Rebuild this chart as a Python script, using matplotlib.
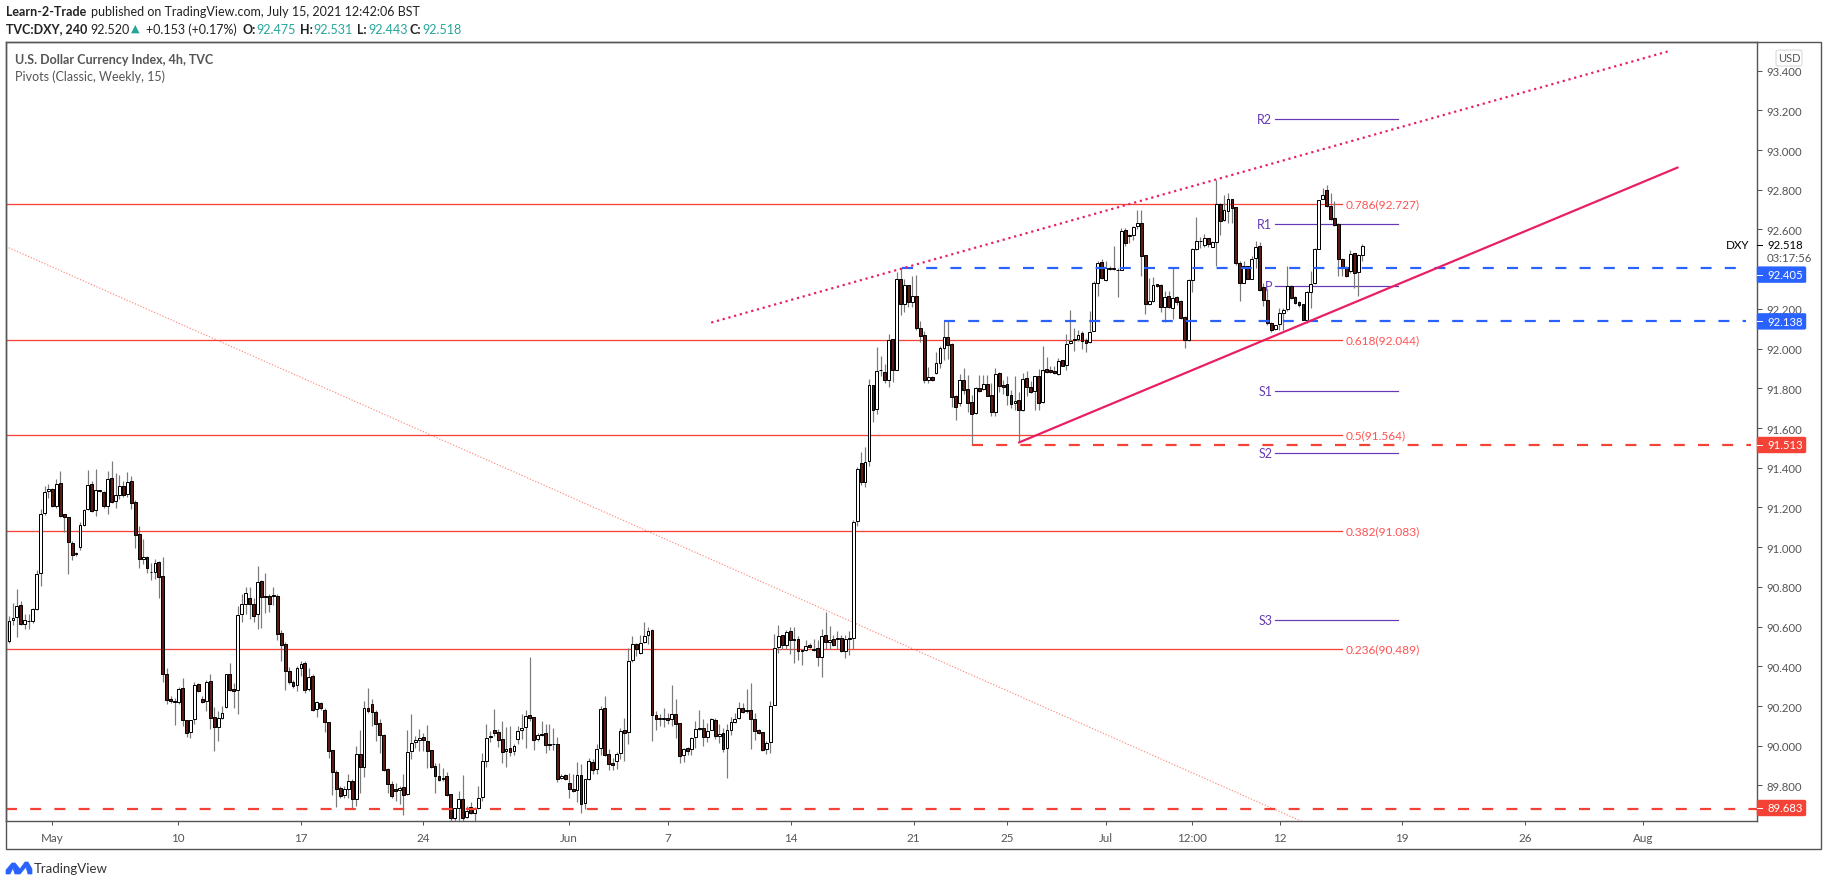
import matplotlib
matplotlib.use("Agg")
import matplotlib.pyplot as plt
from matplotlib.lines import Line2D
from matplotlib.patches import FancyBboxPatch, Polygon, Rectangle

W, H = 1828, 887

directions = ("UUUDUUUUUUUDUDDDDDUU" "UDUDDUDUUDUDDDUDUUDD" "DDDUDDUUDDUDDUUUDDUU" "UDDUDDDDDDDDDUUDUDUD"
              "DDDDDUUDUDUDDDDDDDDU" "DUUUUDDDDDUDDUUDUDUU" "UUUDDDUDUUUUDDUDDDDD" "UDDDUDUUDUUDDDUUDUUD"
              "UUUDDUUDUDDUDUUUDUUD" "UDUUUUDDDDDDUUUUDUDD" "DUUDUDUDUDUDUDUUDUUD" "UUDUDUDUDUDDDUDUUUDD"
              "DUDDDUDUDDUDDDDUDUDD" "UDUDDDUDUUUUDDUUUDUU" "UDUDUUUDDUUDDUDUDDDU" "UUUUDUUDUUDDDUDUUDDD"
              "DUUUUDDDDUUUUUDDDDDDUDUU")

body_top = [
 90.627,90.644,90.703,90.710,90.632,90.629,90.688,90.864,91.166,91.277,91.292,91.292,91.319,91.324,91.166,91.153,91.022,90.971,91.112,91.188,
 91.314,91.319,91.287,91.289,91.279,91.344,91.349,91.263,91.309,91.309,91.327,91.334,91.228,91.067,90.951,90.951,90.876,90.919,90.926,90.856,
 90.362,90.237,90.226,90.287,90.292,90.129,90.129,90.305,90.310,90.237,90.322,90.325,90.146,90.141,90.164,90.361,90.361,90.287,90.658,90.713,
 90.768,90.743,90.715,90.824,90.829,90.753,90.753,90.757,90.755,90.569,90.513,90.377,90.322,90.391,90.411,90.416,90.347,90.352,90.220,90.216,
 90.179,90.119,89.978,89.869,89.788,89.783,89.824,89.824,89.960,89.960,90.191,90.191,90.211,90.171,90.116,90.055,89.884,89.809,89.780,89.788,
 89.793,89.970,90.015,90.028,90.040,90.045,90.025,89.980,89.899,89.849,89.839,89.849,89.758,89.684,89.733,89.733,89.671,89.691,89.683,89.738,
 89.924,90.040,90.047,90.081,90.070,90.035,89.985,89.990,90.000,90.075,90.091,90.151,90.156,90.146,90.054,90.060,90.065,90.010,90.010,90.010,
 89.849,89.852,89.814,89.783,89.854,89.854,89.834,89.923,89.919,89.985,90.186,90.191,89.960,89.914,89.960,90.075,90.081,90.426,90.512,90.512,
 90.517,90.554,90.579,90.584,90.156,90.138,90.139,90.141,90.161,90.161,90.116,89.985,89.990,90.040,90.086,90.091,90.091,90.075,90.136,90.131,
 90.060,90.065,90.081,90.121,90.136,90.190,90.191,90.181,90.181,90.136,90.081,90.070,90.013,90.201,90.492,90.554,90.559,90.574,90.579,90.539,
 90.539,90.483,90.503,90.508,90.487,90.493,90.554,90.559,90.534,90.539,90.544,90.544,90.539,90.544,91.126,91.396,91.424,91.429,91.817,91.817,
 91.888,91.893,91.883,92.044,92.049,92.351,92.351,92.321,92.321,92.264,92.265,92.104,92.069,91.858,91.858,91.928,92.004,92.059,92.059,92.024,
 91.762,91.843,91.843,91.797,91.732,91.802,91.802,91.822,91.822,91.767,91.873,91.878,91.819,91.822,91.767,91.737,91.742,91.848,91.853,91.807,
 91.863,91.863,91.893,91.898,91.890,91.888,91.938,91.943,92.024,92.039,92.049,92.067,92.079,92.044,92.084,92.331,92.432,92.437,92.405,92.407,
 92.405,92.398,92.593,92.598,92.573,92.613,92.633,92.635,92.469,92.240,92.321,92.323,92.321,92.262,92.266,92.256,92.262,92.242,92.160,92.346,
 92.502,92.543,92.544,92.558,92.558,92.538,92.729,92.729,92.697,92.754,92.754,92.714,92.432,92.417,92.417,92.452,92.512,92.517,92.311,92.246,
 92.130,92.120,92.180,92.195,92.316,92.316,92.261,92.235,92.225,92.286,92.326,92.502,92.749,92.774,92.799,92.720,92.658,92.628,92.452,92.412,
 92.477,92.482,92.472,92.517]

body_bottom = [
 90.527,90.634,90.649,90.614,90.614,90.627,90.627,90.688,90.871,91.173,91.284,91.206,91.206,91.159,91.153,91.027,90.960,90.966,91.002,91.111,
 91.193,91.181,91.188,91.282,91.206,91.208,91.227,91.232,91.263,91.263,91.267,91.223,91.060,90.941,90.940,90.896,90.874,90.876,90.851,90.361,
 90.231,90.226,90.220,90.220,90.129,90.065,90.069,90.136,90.277,90.220,90.225,90.139,90.094,90.094,90.141,90.196,90.280,90.275,90.282,90.664,
 90.715,90.715,90.653,90.664,90.750,90.748,90.715,90.753,90.564,90.508,90.377,90.320,90.300,90.304,90.391,90.280,90.287,90.181,90.186,90.191,
 90.121,89.975,89.869,89.782,89.746,89.752,89.783,89.733,89.733,89.892,89.892,90.174,90.171,90.111,90.054,89.877,89.809,89.746,89.773,89.777,
 89.752,89.758,89.973,90.018,90.030,90.028,89.973,89.892,89.847,89.829,89.832,89.750,89.636,89.636,89.684,89.636,89.641,89.663,89.663,89.686,
 89.742,89.923,90.044,90.064,90.028,89.968,89.975,89.968,89.975,90.035,90.081,90.094,90.139,90.028,90.035,90.055,90.003,90.003,90.007,89.834,
 89.837,89.834,89.783,89.772,89.778,89.708,89.711,89.834,89.879,89.884,89.990,89.955,89.909,89.903,89.924,89.965,90.065,90.070,90.433,90.488,
 90.468,90.523,90.559,90.156,90.136,90.134,90.134,90.131,90.136,90.111,89.950,89.955,89.975,89.985,90.045,90.086,90.045,90.045,90.081,90.050,
 90.050,89.985,89.990,90.081,90.121,90.141,90.171,90.176,90.136,90.075,90.065,89.980,89.985,90.020,90.206,90.498,90.508,90.508,90.534,90.534,
 90.478,90.478,90.483,90.498,90.483,90.448,90.448,90.523,90.523,90.508,90.539,90.478,90.478,90.539,90.544,91.130,91.327,91.327,91.435,91.690,
 91.697,91.890,91.841,91.843,91.893,91.893,92.223,92.225,92.234,92.234,92.103,92.062,91.841,91.841,91.841,91.878,91.928,92.004,92.019,91.755,
 91.705,91.727,91.792,91.727,91.670,91.676,91.785,91.796,91.762,91.681,91.681,91.811,91.806,91.765,91.722,91.727,91.692,91.692,91.806,91.780,
 91.785,91.727,91.732,91.881,91.883,91.876,91.873,91.913,91.916,92.029,92.044,92.047,92.039,92.029,92.032,92.088,92.329,92.356,92.345,92.402,
 92.402,92.395,92.398,92.533,92.566,92.573,92.616,92.465,92.225,92.225,92.240,92.316,92.210,92.210,92.210,92.204,92.235,92.155,92.041,92.044,
 92.346,92.502,92.541,92.522,92.527,92.512,92.538,92.642,92.648,92.694,92.707,92.432,92.331,92.331,92.351,92.351,92.457,92.296,92.246,92.130,
 92.096,92.098,92.123,92.180,92.200,92.256,92.230,92.220,92.145,92.145,92.286,92.331,92.502,92.754,92.719,92.653,92.623,92.452,92.407,92.366,
 92.392,92.381,92.387,92.472]

highs = [
 90.653,90.720,90.790,90.730,90.661,90.661,90.695,90.884,91.190,91.310,91.320,91.299,91.344,91.386,91.166,91.153,91.030,90.978,91.126,91.193,
 91.391,91.332,91.396,91.290,91.282,91.383,91.436,91.374,91.361,91.332,91.379,91.357,91.240,91.109,91.039,90.958,90.921,90.938,90.930,90.948,
 90.389,90.250,90.242,90.297,90.339,90.132,90.132,90.322,90.314,90.250,90.330,90.359,90.195,90.174,90.200,90.361,90.418,90.317,90.703,90.762,
 90.799,90.799,90.745,90.904,90.837,90.871,90.762,90.800,90.762,90.581,90.522,90.398,90.330,90.401,90.429,90.429,90.393,90.359,90.225,90.221,
 90.191,90.119,89.981,89.877,89.797,89.797,89.856,89.830,89.998,90.077,90.225,90.289,90.233,90.179,90.136,90.057,89.889,89.822,89.814,89.797,
 89.856,90.077,90.158,90.049,90.082,90.065,90.102,89.981,89.914,89.914,89.889,89.869,89.758,89.688,89.772,89.851,89.696,89.716,89.691,89.797,
 89.965,90.112,90.074,90.183,90.082,90.124,90.096,90.099,90.007,90.099,90.158,90.178,90.445,90.146,90.065,90.124,90.112,90.112,90.087,90.045,
 89.856,89.856,89.861,89.856,89.916,89.909,89.834,89.940,89.931,90.007,90.200,90.248,89.982,89.940,89.968,90.091,90.138,90.493,90.552,90.518,
 90.560,90.624,90.599,90.586,90.174,90.158,90.191,90.166,90.304,90.233,90.116,89.990,89.993,90.045,90.124,90.179,90.133,90.116,90.141,90.141,
 90.112,90.091,90.112,90.146,90.166,90.220,90.216,90.284,90.314,90.163,90.086,90.070,90.023,90.225,90.564,90.609,90.560,90.582,90.599,90.599,
 90.552,90.488,90.530,90.518,90.539,90.532,90.586,90.676,90.602,90.560,90.577,90.560,90.560,90.577,91.139,91.404,91.479,91.505,91.848,91.817,
 92.010,91.962,91.920,92.071,92.049,92.385,92.406,92.351,92.321,92.364,92.373,92.138,92.091,91.906,91.861,91.982,92.015,92.138,92.138,92.027,
 91.764,91.873,91.900,91.869,91.764,91.806,91.869,91.869,91.869,91.827,91.903,91.881,91.844,91.861,91.794,91.861,91.780,91.878,91.886,91.836,
 91.864,91.895,92.015,91.958,91.911,91.911,91.953,91.945,92.076,92.192,92.104,92.096,92.088,92.054,92.189,92.340,92.440,92.449,92.440,92.415,
 92.516,92.407,92.608,92.608,92.579,92.616,92.697,92.697,92.469,92.356,92.360,92.326,92.323,92.289,92.289,92.407,92.267,92.247,92.163,92.348,
 92.507,92.663,92.563,92.579,92.558,92.541,92.848,92.731,92.771,92.784,92.754,92.714,92.440,92.440,92.418,92.465,92.541,92.536,92.331,92.298,
 92.133,92.121,92.205,92.205,92.418,92.318,92.264,92.239,92.227,92.289,92.390,92.507,92.749,92.809,92.826,92.784,92.742,92.633,92.457,92.415,
 92.499,92.482,92.474,92.529]

lows = [
 90.515,90.606,90.547,90.606,90.586,90.586,90.619,90.683,90.804,91.164,91.250,91.201,91.198,91.153,91.075,90.864,90.935,90.955,90.985,91.106,
 91.186,91.176,91.159,91.277,91.198,91.169,91.223,91.198,91.243,91.253,91.253,91.193,90.997,90.893,90.913,90.871,90.834,90.842,90.742,90.320,
 90.208,90.216,90.102,90.208,90.099,90.045,90.037,90.112,90.273,90.213,90.174,90.082,89.976,90.023,90.136,90.191,90.275,90.191,90.158,90.622,
 90.664,90.639,90.622,90.586,90.594,90.666,90.673,90.711,90.530,90.429,90.280,90.312,90.292,90.275,90.351,90.267,90.275,90.174,90.144,90.179,
 90.069,89.939,89.752,89.691,89.738,89.738,89.738,89.684,89.696,89.763,89.844,90.166,90.099,90.023,89.965,89.872,89.760,89.738,89.721,89.705,
 89.649,89.750,89.934,89.990,89.973,89.973,89.889,89.889,89.763,89.822,89.822,89.747,89.621,89.617,89.617,89.621,89.637,89.654,89.621,89.679,
 89.721,89.893,90.018,90.049,89.993,89.911,89.893,89.948,89.951,90.010,90.032,89.987,90.124,89.978,90.023,90.049,89.961,89.978,89.978,89.817,
 89.830,89.827,89.735,89.767,89.718,89.663,89.679,89.827,89.859,89.856,89.951,89.948,89.876,89.876,89.881,89.931,89.923,90.007,90.421,90.451,
 90.460,90.518,90.510,90.022,90.077,90.099,90.094,90.107,90.099,90.037,89.911,89.916,89.951,89.951,89.990,90.079,89.997,90.018,90.081,90.035,
 90.015,89.968,89.837,90.052,90.116,90.136,90.166,90.166,89.982,90.028,90.060,89.976,89.956,89.965,90.203,90.465,90.488,90.485,90.463,90.418,
 90.431,90.409,90.476,90.493,90.476,90.404,90.346,90.488,90.488,90.502,90.485,90.471,90.440,90.456,90.488,91.105,91.315,91.303,91.408,91.629,
 91.673,91.864,91.827,91.806,91.831,91.890,92.171,92.183,92.208,92.208,92.096,92.032,91.827,91.827,91.839,91.874,91.903,91.945,91.948,91.705,
 91.640,91.710,91.769,91.681,91.512,91.673,91.782,91.794,91.760,91.660,91.660,91.780,91.769,91.718,91.702,91.693,91.529,91.685,91.760,91.777,
 91.693,91.693,91.727,91.878,91.878,91.873,91.869,91.911,91.891,92.025,91.987,92.036,91.996,91.984,92.029,92.088,92.264,92.351,92.340,92.398,
 92.397,92.259,92.395,92.519,92.533,92.549,92.603,92.368,92.172,92.222,92.234,92.311,92.183,92.133,92.205,92.147,92.222,92.150,92.001,92.037,
 92.284,92.499,92.507,92.512,92.512,92.512,92.415,92.574,92.642,92.633,92.633,92.423,92.239,92.328,92.351,92.351,92.407,92.289,92.214,92.121,
 92.084,92.093,92.096,92.096,92.188,92.251,92.227,92.210,92.143,92.130,92.205,92.323,92.502,92.751,92.714,92.650,92.616,92.365,92.365,92.361,
 92.381,92.306,92.267,92.440]

x_tick_bars = [10.9, 42.8, 74.0, 104.9, 142.0, 167.0, 198.2, 229.3, 253.0, 278.0, 300.0, 322.2, 353.1, 384.3, 414.2]
x_tick_labels = ["May", "10", "17", "24", "Jun", "7", "14", "21", "25", "Jul", "12:00", "12", "19", "26", "Aug"]
y_ticks = [89.8, 90.0, 90.2, 90.4, 90.6, 90.8, 91.0, 91.2, 91.4, 91.6, 91.8, 92.0, 92.2, 92.6, 92.8, 93.0, 93.2, 93.4]

fib_levels = [0.786, 0.618, 0.5, 0.382, 0.236]
fib_prices = [92.727, 92.044, 91.564, 91.083, 90.489]
pivot_names = ["R2", "R1", "P", "S1", "S2", "S3"]
pivot_prices = [93.158, 92.628, 92.316, 91.787, 91.475, 90.634]
blue_levels = [92.405, 92.138]
blue_starts = [226.4, 237.0]
red_levels = [91.513, 89.683]
red_starts = [244.1, -0.76]
upper_channel_x, upper_channel_y = [178.0, 421.3], [92.131, 93.501]
lower_trend_x, lower_trend_y = [256.0, 423.0], [91.527, 92.912]
down_trend_x, down_trend_y = [-0.76, 327.8], [92.514, 89.618]

plt.rcParams["font.family"] = ["Lato", "DejaVu Sans"]
GREY, DARK, TEAL, BLUE, RED, PINK, PURPLE = "#555555", "#222222", "#26a69a", "#2962ff", "#f44336", "#e91e63", "#673ab7"
PX = 0.72

fig = plt.figure(figsize=(W / 100, H / 100), dpi=100, facecolor="white")
ax = fig.add_axes([6 / W, 1 - 822 / H, (1757 - 6) / W, (822 - 43) / H])
ax.set_xlim(-0.76, 443.1)
ax.set_ylim(89.621, 93.544)
for s in ax.spines.values():
    s.set_color(GREY)
    s.set_linewidth(1.4 * PX)

def ftext(px, py, s, **kw):
    kw.setdefault("va", "center")
    return fig.text(px / W, 1 - py / H, s, **kw)

# horizontal fib and levels
x_left, x_right = ax.get_xlim()
for level, price in zip(fib_levels, fib_prices):
    ax.plot([x_left, 337.9], [price, price], color=RED, lw=1.3 * PX, zorder=2)
    ax.text(338.9, price, f"{level}({price})", color="#ff5252", fontsize=8.6, va="center", zorder=6)

ax.plot(down_trend_x, down_trend_y, color="#ff8a80", lw=1.2 * PX, ls=(0, (1, 1.5)), zorder=1)

# candles
idx = list(range(len(body_top)))
ax.vlines(idx, lows, highs, color="#7a7a7a", lw=1.2 * PX, zorder=3)
for i in idx:
    up = directions[i] == "U"
    ax.bar(i, body_top[i] - body_bottom[i], width=0.72, bottom=body_bottom[i],
           facecolor="white" if up else "#5d1a12", edgecolor="black", linewidth=1.0 * PX, zorder=4)

for price, start, colr, end in zip(blue_levels + red_levels, blue_starts + red_starts,
                                   [BLUE, BLUE, RED, RED], [440.5, 440.3, 441.6, 443.1]):
    ax.plot([start, end], [price, price], color=colr, lw=2.2 * PX, ls=(0, (5, 6)), zorder=5)

ax.plot(upper_channel_x, upper_channel_y, color=PINK, lw=2.2 * PX, ls=(0, (1, 1.7)), zorder=5)
ax.plot(lower_trend_x, lower_trend_y, color=PINK, lw=2.2 * PX, zorder=5, solid_capstyle="round")

for name, price in zip(pivot_names, pivot_prices):
    ax.plot([320.9, 352.1], [price, price], color=PURPLE, lw=1.2 * PX, zorder=2)
    ax.text(320.2, price, name, color=PURPLE, fontsize=9, ha="right", va="center", zorder=2)

# axes
ax.set_xticks(x_tick_bars, x_tick_labels)
ax.yaxis.tick_right()
ax.set_yticks(y_ticks, [f"{v:.3f}" for v in y_ticks])
ax.tick_params(axis="x", length=3.2, width=1 * PX, color=GREY, labelcolor=GREY, labelsize=8.4, pad=5)
ax.tick_params(axis="y", length=3.6, width=1 * PX, color=GREY, labelcolor=GREY, labelsize=8.2, pad=3.5)

# outer frame
fig.add_artist(Rectangle((6 / W, 1 - 850 / H), (1821 - 6) / W, (850 - 43) / H, transform=fig.transFigure,
                         fill=False, edgecolor=GREY, linewidth=1.4 * PX, zorder=1))

# header
ftext(6, 12.5, "Learn-2-Trade", color=DARK, fontsize=9, fontweight="bold")
ftext(91, 12.5, "published on TradingView.com, July 15, 2021 12:42:06 BST", color=DARK, fontsize=9)
ftext(6, 29.5, "TVC:DXY, 240", color=DARK, fontsize=9, fontweight="bold")
ftext(90, 29.5, "92.520", color=DARK, fontsize=9)
ftext(131, 29, "▲", color=TEAL, fontsize=8, family="DejaVu Sans")
ftext(146, 29.5, "+0.153 (+0.17%)", color=DARK, fontsize=9)
for lx, lab, vx, val in [(242.5, "O:", 256, "92.475"), (300, "H:", 313, "92.531"),
                         (357, "L:", 368, "92.443"), (410, "C:", 422.6, "92.518")]:
    ftext(lx, 29.5, lab, color=DARK, fontsize=9, fontweight="bold")
    ftext(vx, 29.5, val, color=TEAL, fontsize=9)
ftext(15, 60, "U.S. Dollar Currency Index, 4h, TVC", color=GREY, fontsize=9, fontweight="bold")
ftext(15, 77, "Pivots (Classic, Weekly, 15)", color=GREY, fontsize=9)

# right side labels
def price_box(py, label, colr):
    fig.add_artist(FancyBboxPatch((1757 / W, 1 - (py + 8) / H), 49 / W, 16 / H, transform=fig.transFigure,
                                  boxstyle="round,pad=0,rounding_size=0.0012", facecolor=colr, edgecolor=colr,
                                  linewidth=0.3, zorder=5))
    fig.add_artist(Line2D([1757 / W, 1762 / W], [1 - py / H] * 2, color="white", lw=1 * PX, zorder=6))
    ftext(1767, py, label, color="white", fontsize=8.2, zorder=6)

price_box(275.7, "92.405", BLUE)
price_box(322.3, "92.138", BLUE)
price_box(446, "91.513", RED)
price_box(809, "89.683", RED)
fig.add_artist(Line2D([1757 / W, 1762 / W], [1 - 246 / H] * 2, color="black", lw=1 * PX, zorder=6))
ftext(1767, 246, "92.518", color="black", fontsize=8.2)
ftext(1767, 259, "03:17:56", color=GREY, fontsize=8.2)
ftext(1749, 246, "DXY", color="black", fontsize=8.4, ha="right")
fig.add_artist(FancyBboxPatch((1776 / W, 1 - 67 / H), 26 / W, 16 / H, transform=fig.transFigure,
                              boxstyle="round,pad=0,rounding_size=0.002", facecolor="white", edgecolor="#d6d6d6",
                              linewidth=1 * PX, zorder=5))
ftext(1789, 59, "USD", color=GREY, fontsize=8, ha="center", zorder=6)

# TradingView mark
shape = [(6, 875), (6, 871), (12, 864), (15, 864), (20, 870), (25, 863), (28, 863), (32, 870), (32, 875),
         (28, 875), (26, 868), (20, 875), (15, 875), (13, 869), (10, 875)]
fig.add_artist(Polygon([(x / W, 1 - y / H) for x, y in shape], closed=True, transform=fig.transFigure,
                       facecolor=BLUE, edgecolor=BLUE, linewidth=0.5))
ftext(34, 869, "TradingView", color="#333333", fontsize=9.5)

fig.savefig("out.png", dpi=100, facecolor="white")
